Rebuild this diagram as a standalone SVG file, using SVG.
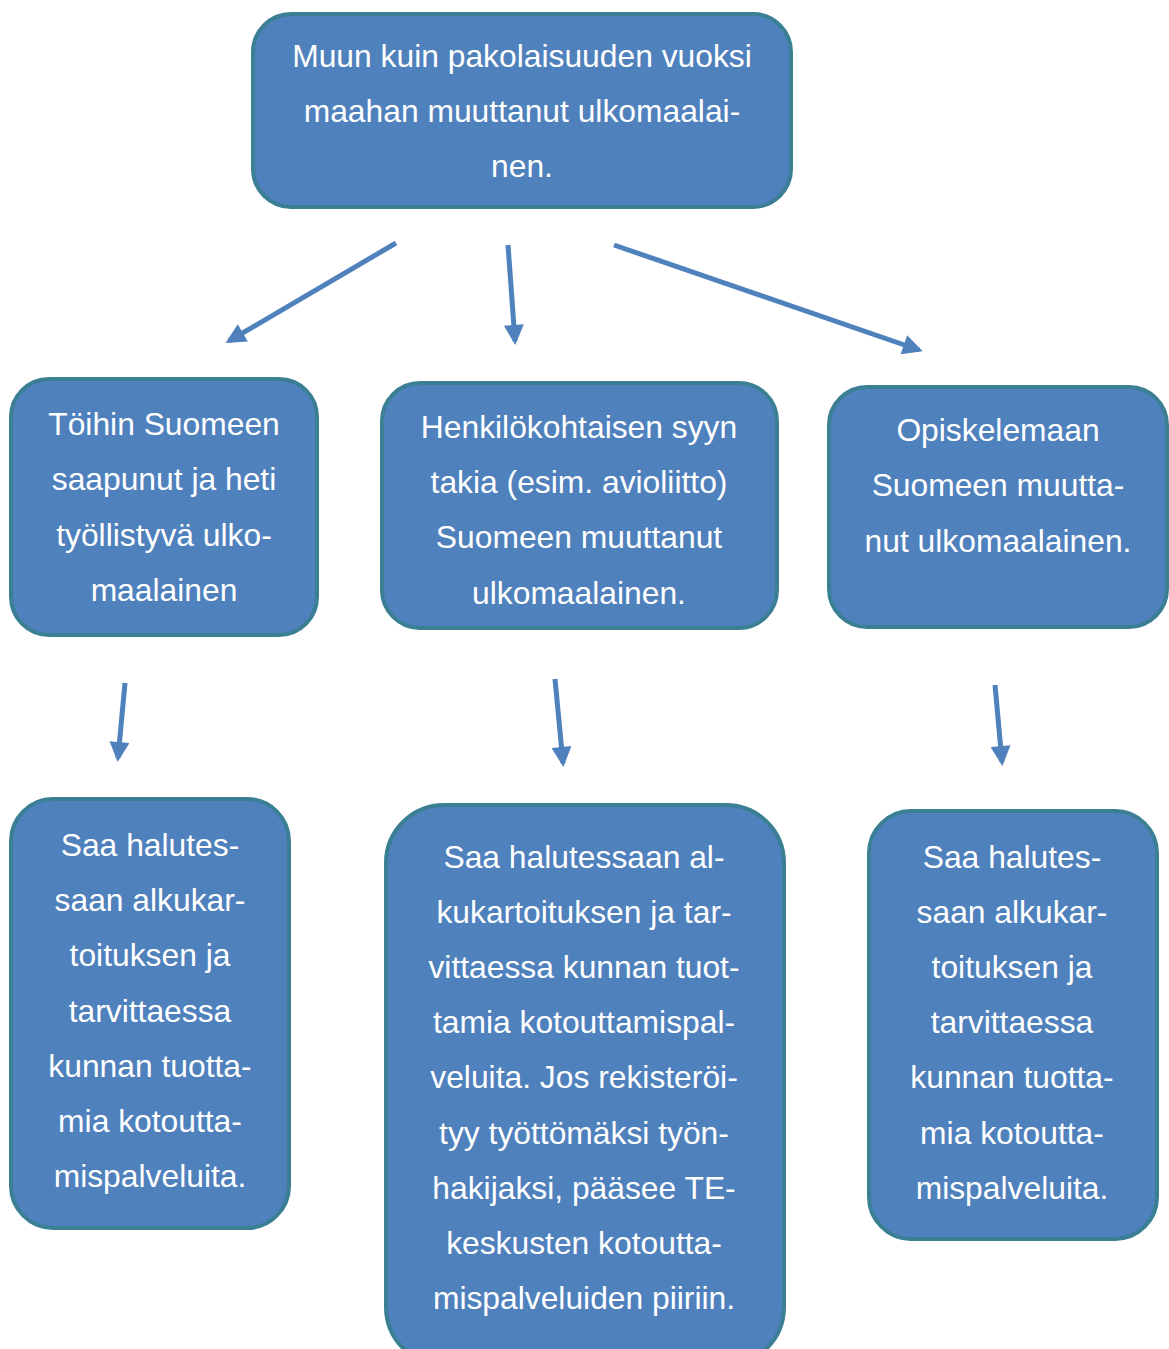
<svg xmlns="http://www.w3.org/2000/svg" width="1169" height="1349" viewBox="0 0 1169 1349">
<style>
.box{fill:#4F81BD;stroke:#3A7F94;stroke-width:4}
.t{font-family:"Liberation Sans",Arial,sans-serif;font-size:31.8px;fill:#fff;text-anchor:middle}
.c{stroke:#4F81BD;stroke-width:5;fill:none;marker-end:url(#ah)}
</style>
<defs>
<marker id="ah" viewBox="0 0 10 10" refX="8" refY="5" markerWidth="4.2" markerHeight="4" orient="auto" markerUnits="strokeWidth">
<path d="M0,0 L10,5 L0,10 z" fill="#4F81BD"/>
</marker>
</defs>
<rect width="1169" height="1349" fill="#fff"/>
<g id="connectors">
<line class="c" x1="396" y1="243" x2="229" y2="341"/>
<line class="c" x1="508" y1="245" x2="515" y2="341"/>
<line class="c" x1="614" y1="245" x2="919" y2="350"/>
<line class="c" x1="125" y1="683" x2="118" y2="758"/>
<line class="c" x1="555" y1="679" x2="563" y2="763"/>
<line class="c" x1="995" y1="685" x2="1002" y2="762"/>
</g>
<g id="n-top">
<rect class="box" x="253" y="14" width="538" height="193" rx="38"/>
<text class="t" x="522" y="67">Muun kuin pakolaisuuden vuoksi</text>
<text class="t" x="522" y="122">maahan muuttanut ulkomaalai-</text>
<text class="t" x="522" y="177">nen.</text>
</g>
<g id="n-work">
<rect class="box" x="11" y="379" width="306" height="256" rx="38"/>
<text class="t" x="164" y="435">Töihin Suomeen</text>
<text class="t" x="164" y="490">saapunut ja heti</text>
<text class="t" x="164" y="546">työllistyvä ulko-</text>
<text class="t" x="164" y="601">maalainen</text>
</g>
<g id="n-personal">
<rect class="box" x="382" y="383" width="395" height="245" rx="38"/>
<text class="t" x="579" y="438">Henkilökohtaisen syyn</text>
<text class="t" x="579" y="493">takia (esim. avioliitto)</text>
<text class="t" x="579" y="548">Suomeen muuttanut</text>
<text class="t" x="579" y="604">ulkomaalainen.</text>
</g>
<g id="n-study">
<rect class="box" x="829" y="387" width="338" height="240" rx="38"/>
<text class="t" x="998" y="441">Opiskelemaan</text>
<text class="t" x="998" y="496">Suomeen muutta-</text>
<text class="t" x="998" y="552">nut ulkomaalainen.</text>
</g>
<g id="n-work-services">
<rect class="box" x="11" y="799" width="278" height="429" rx="42"/>
<text class="t" x="150" y="856">Saa halutes-</text>
<text class="t" x="150" y="911">saan alkukar-</text>
<text class="t" x="150" y="966">toituksen ja</text>
<text class="t" x="150" y="1022">tarvittaessa</text>
<text class="t" x="150" y="1077">kunnan tuotta-</text>
<text class="t" x="150" y="1132">mia kotoutta-</text>
<text class="t" x="150" y="1187">mispalveluita.</text>
</g>
<g id="n-personal-services">
<rect class="box" x="386" y="805" width="398" height="560" rx="58"/>
<text class="t" x="584" y="868">Saa halutessaan al-</text>
<text class="t" x="584" y="923">kukartoituksen ja tar-</text>
<text class="t" x="584" y="978">vittaessa kunnan tuot-</text>
<text class="t" x="584" y="1033">tamia kotouttamispal-</text>
<text class="t" x="584" y="1088">veluita. Jos rekisteröi-</text>
<text class="t" x="584" y="1144">tyy työttömäksi työn-</text>
<text class="t" x="584" y="1199">hakijaksi, pääsee TE-</text>
<text class="t" x="584" y="1254">keskusten kotoutta-</text>
<text class="t" x="584" y="1309">mispalveluiden piiriin.</text>
</g>
<g id="n-study-services">
<rect class="box" x="869" y="811" width="288" height="428" rx="42"/>
<text class="t" x="1012" y="868">Saa halutes-</text>
<text class="t" x="1012" y="923">saan alkukar-</text>
<text class="t" x="1012" y="978">toituksen ja</text>
<text class="t" x="1012" y="1033">tarvittaessa</text>
<text class="t" x="1012" y="1088">kunnan tuotta-</text>
<text class="t" x="1012" y="1144">mia kotoutta-</text>
<text class="t" x="1012" y="1199">mispalveluita.</text>
</g>
</svg>
